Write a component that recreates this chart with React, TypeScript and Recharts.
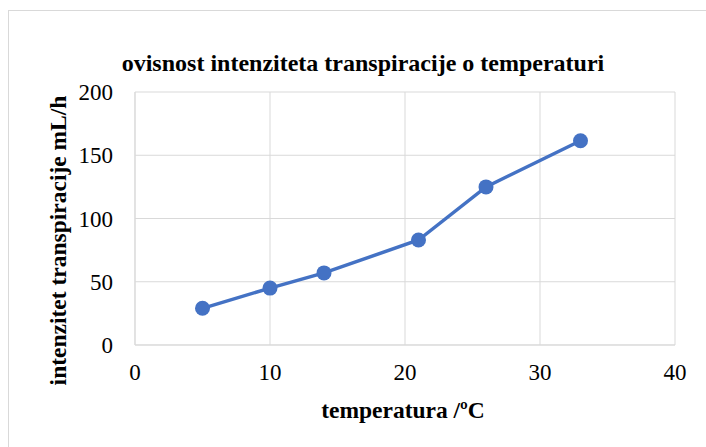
import React from "react";
import { LineChart, Line, XAxis, YAxis, CartesianGrid } from "recharts";

const temperatures = [5, 10, 14, 21, 26, 33];
const intensities = [29, 45, 57, 83, 125, 161.5];
const xTicks = [0, 10, 20, 30, 40];
const yTicks = [0, 50, 100, 150, 200];
const title = "ovisnost intenziteta transpiracije o temperaturi";
const xTitle = "temperatura /ºC";
const yTitle = "intenzitet transpiracije mL/h";

const data = temperatures.map((t, i) => ({ t, v: intensities[i] }));

const FONT = '"Times New Roman", "Liberation Serif", serif';

const YLabel = (props: any) => {
  const vb = props.viewBox || {};
  const cx = vb.x + vb.width - 77;
  const cy = vb.y + vb.height / 2 + 22;
  return (
    <text
      x={cx}
      y={cy}
      transform={`rotate(-90, ${cx}, ${cy})`}
      textAnchor="middle"
      dominantBaseline="central"
      fontFamily={FONT}
      fontWeight="bold"
      fontSize={23.5}
      fill="#000"
    >
      {yTitle}
    </text>
  );
};

const XLabel = (props: any) => {
  const vb = props.viewBox || {};
  const cx = vb.x + vb.width / 2 - 2;
  const cy = vb.y + vb.height / 2 + 35;
  return (
    <text
      x={cx}
      y={cy}
      textAnchor="middle"
      dominantBaseline="central"
      fontFamily={FONT}
      fontWeight="bold"
      fontSize={23.5}
      fill="#000"
    >
      {xTitle}
    </text>
  );
};

export default function App() {
  return (
    <div style={{ position: "absolute", left: 0, top: 0, width: 706, height: 447, overflow: "hidden", background: "#fff" }}>
      <div
        style={{
          position: "absolute",
          left: 8,
          top: 10,
          width: 720,
          height: 460,
          border: "1px solid #d9d9d9",
          boxSizing: "border-box",
        }}
      />
      <div
        style={{
          position: "absolute",
          left: 0,
          top: 48,
          width: 726,
          textAlign: "center",
          fontFamily: FONT,
          fontWeight: "bold",
          fontSize: 24,
          color: "#000",
          lineHeight: "30px",
          whiteSpace: "nowrap",
        }}
      >
        {title}
      </div>
      <div style={{ position: "absolute", left: 0, top: 0 }}>
        <LineChart
          width={706}
          height={447}
          data={data}
          margin={{ top: 92, right: 31, bottom: 42, left: 75 }}
        >
          <CartesianGrid stroke="#d9d9d9" strokeWidth={1} />
          <XAxis
            type="number"
            dataKey="t"
            domain={[0, 40]}
            ticks={xTicks}
            height={60}
            axisLine={{ stroke: "#d9d9d9" }}
            tickLine={false}
            tickSize={0}
            tickMargin={19}
            tick={{ fontFamily: FONT, fontSize: 23, fill: "#000" }}
            label={<XLabel />}
          />
          <YAxis
            type="number"
            domain={[0, 200]}
            ticks={yTicks}
            width={60}
            axisLine={{ stroke: "#d9d9d9" }}
            tickLine={false}
            tickSize={0}
            tickMargin={22}
            tick={{ fontFamily: FONT, fontSize: 23, fill: "#000" }}
            label={<YLabel />}
          />
          <Line
            type="linear"
            dataKey="v"
            stroke="#4472C4"
            strokeWidth={3.5}
            dot={{ r: 7.5, fill: "#4472C4", stroke: "#4472C4", strokeWidth: 0 }}
            activeDot={false}
            isAnimationActive={false}
          />
        </LineChart>
      </div>
    </div>
  );
}
